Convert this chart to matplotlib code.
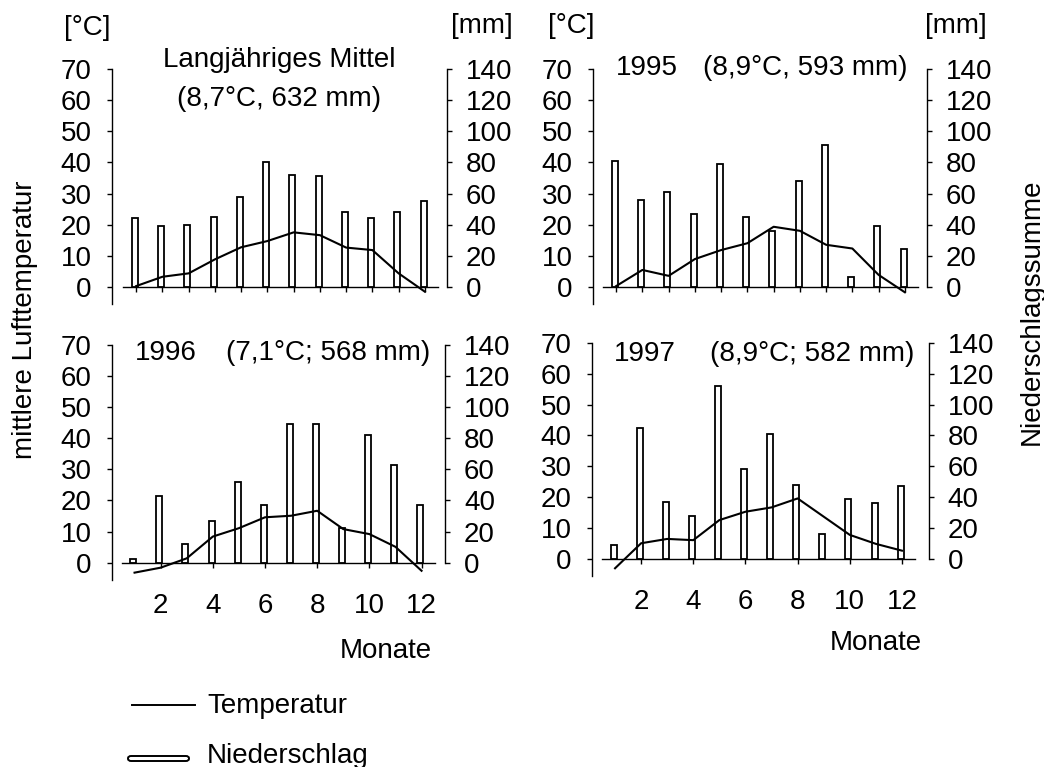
import matplotlib
matplotlib.use('Agg')
import matplotlib.pyplot as plt
from matplotlib.lines import Line2D
from matplotlib.patches import FancyBboxPatch

plt.rcParams['font.family'] = ['Liberation Sans', 'DejaVu Sans']
plt.rcParams['font.size'] = 20

# Monatswerte
months = list(range(1, 13))

temp_mittel = [0.2, 3.2, 4.3, 8.8, 12.7, 14.7, 17.5, 16.6, 12.6, 11.8, 4.3, -1.6]
prec_mittel = [44, 39, 40, 45, 58, 80, 72, 71, 48, 44, 48, 55]

temp_1995 = [0.2, 5.4, 3.5, 8.9, 11.8, 14.0, 19.3, 18.0, 13.5, 12.3, 3.8, -1.8]
prec_1995 = [81, 56, 61, 47, 79, 45, 36, 68, 91, 6, 39, 24]

temp_1996 = [-3.2, -1.6, 1.4, 8.4, 11.1, 14.6, 15.1, 16.7, 10.8, 9.2, 5.1, -2.6]
prec_1996 = [2.5, 43, 12, 27, 52, 37, 89, 89, 22, 82, 63, 37]

temp_1997 = [-3.0, 5.1, 6.5, 6.1, 12.6, 15.3, 16.7, 19.6, 13.7, 7.8, 4.9, 2.7]
prec_1997 = [9, 85, 37, 28, 112, 58, 81, 48, 16, 39, 36, 47]

W, H = 1044, 767
fig = plt.figure(figsize=(W / 100, H / 100), dpi=100)


def panel(x0, x1, ytop, ybot, temp, prec, bottom_labels, left_out, right_out):
    ax = fig.add_axes([x0 / W, 1 - ybot / H, (x1 - x0) / W, (ybot - ytop) / H])
    ax2 = ax.twinx()
    ax.set_zorder(2)
    ax2.set_zorder(1)
    ax.patch.set_visible(False)

    ax2.bar([m - 0.05 for m in months], prec, width=0.23, color='white',
            edgecolor='black', linewidth=1.3)
    ax.plot(months, temp, color='black', linewidth=1.5, clip_on=False)

    ax.set_xlim(0.5, 12.5)
    ax.set_ylim(-5.5, 70)
    ax2.set_ylim(-11, 140)
    ax.set_yticks(range(0, 71, 10))
    ax2.set_yticks(range(0, 141, 20))

    for s in ['top', 'right']:
        ax.spines[s].set_visible(False)
    for s in ['top', 'left', 'bottom']:
        ax2.spines[s].set_visible(False)
    ax.spines['left'].set_position(('outward', left_out))
    ax2.spines['right'].set_position(('outward', right_out))
    ax2.spines['right'].set_bounds(0, 140)
    ax.spines['bottom'].set_position(('data', 0))
    for sp in [ax.spines['left'], ax.spines['bottom'], ax2.spines['right']]:
        sp.set_linewidth(1.0)

    ax.tick_params(axis='y', direction='out', length=3.6, width=1.0, pad=11)
    ax2.tick_params(axis='y', direction='out', length=3.6, width=1.0, pad=10)
    if bottom_labels:
        ax.set_xticks([2, 4, 6, 8, 10, 12])
        ax.tick_params(axis='x', direction='out', length=3.6, width=1.0, pad=18)
    else:
        ax.set_xticks(months)
        ax.tick_params(axis='x', direction='out', length=3.6, width=1.0,
                       labelbottom=False)
    return ax, ax2


panel(123, 438, 69.3, 303.8, temp_mittel, prec_mittel, False, 7.9, 6.3)
panel(603, 918, 69.3, 303.8, temp_1995, prec_1995, False, 7.2, 6.3)
panel(121.5, 434.6, 345, 579.8, temp_1996, prec_1996, True, 6.8, 7.5)
panel(602, 915, 342.7, 576, temp_1997, prec_1997, True, 7.4, 10)


def ftext(x, y, s, **kw):
    fig.text(x / W, 1 - y / H, s, ha=kw.pop('ha', 'center'),
             va=kw.pop('va', 'center'), **kw)


ftext(279, 60, 'Langjähriges Mittel')
ftext(279, 99, '(8,7°C, 632 mm)')
ftext(647, 68, '1995')
ftext(805, 68, '(8,9°C, 593 mm)')
ftext(166, 353, '1996')
ftext(328, 353, '(7,1°C; 568 mm)')
ftext(645, 354, '1997')
ftext(812, 354, '(8,9°C; 582 mm)')

ftext(87, 28, '[°C]')
ftext(482, 26, '[mm]')
ftext(571, 26, '[°C]')
ftext(956, 26, '[mm]')

ftext(25, 320, 'mittlere Lufttemperatur', rotation=90)
ftext(1032, 312, 'Niederschlagssumme', rotation=90)
ftext(386, 651, 'Monate')
ftext(876, 643, 'Monate')

# Legende
fig.add_artist(Line2D([132 / W, 195 / W], [1 - 705 / H, 1 - 705 / H],
                      color='black', linewidth=1.4))
ftext(207, 706, 'Temperatur', ha='left')
fig.add_artist(FancyBboxPatch((128 / W, 1 - 761 / H), 61 / W, 5 / H,
                              boxstyle='round,pad=0,rounding_size=0.003',
                              facecolor='white', edgecolor='black',
                              linewidth=1.4, transform=fig.transFigure))
ftext(207, 756, 'Niederschlag', ha='left')

fig.savefig('out.png', dpi=100)
